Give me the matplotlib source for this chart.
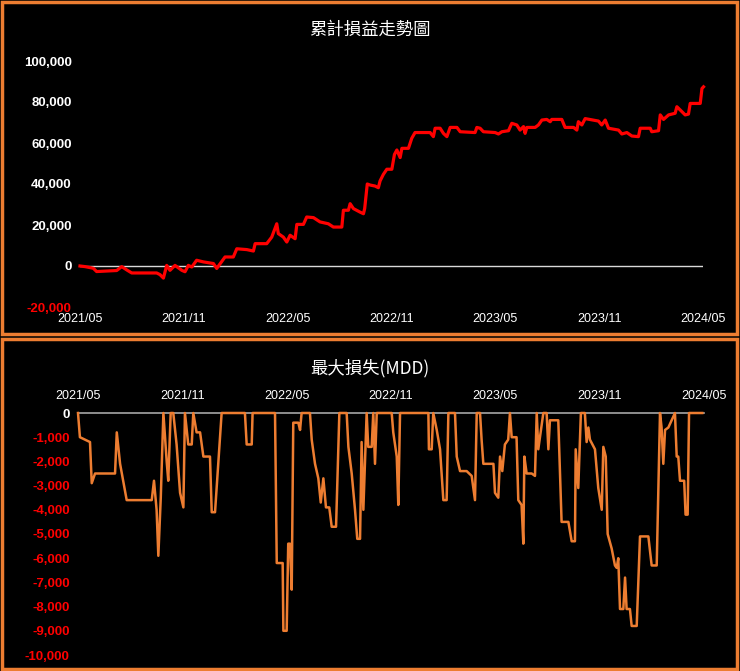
import matplotlib
matplotlib.use("Agg")
import matplotlib.pyplot as plt
from matplotlib.patches import Rectangle

W, H = 740, 671
tick_pos = [0, 6, 12, 18, 24, 30, 36]
tick_labels = ["2021/05", "2021/11", "2022/05", "2022/11", "2023/05", "2023/11", "2024/05"]

pnl_month = [0.0,0.29,0.77,0.96,2.12,2.41,2.70,2.99,4.43,4.62,4.82,5.01,5.20,5.49,5.88,6.07,6.26,6.46,6.74,7.13,7.71,7.90,8.38,8.86,9.06,9.64,10.02,10.12,10.79,11.08,11.37,11.46,11.75,11.95,12.14,12.43,12.53,12.91,13.10,13.49,13.87,14.35,14.64,15.13,15.22,15.51,15.61,15.80,16.18,16.38,16.45,16.6,16.76,17.05,17.24,17.34,17.53,17.73,18.02,18.17,18.31,18.50,18.60,18.98,19.17,19.36,20.23,20.42,20.52,20.81,21.0,21.2,21.39,21.78,21.97,22.83,22.93,23.12,23.31,23.99,24.18,24.38,24.76,24.95,25.24,25.43,25.63,25.72,25.82,26.30,26.49,26.69,26.97,27.17,27.26,27.84,28.03,28.52,28.71,28.80,29.0,29.19,29.96,30.15,30.35,30.54,31.12,31.31,31.60,31.89,32.27,32.37,32.95,33.04,33.43,33.53,33.72,34.01,34.39,34.49,34.78,34.97,35.16,35.26,35.84,35.94,36.03]
pnl_value = [0,-300,-1100,-2700,-2200,-300,-1900,-3400,-3400,-4200,-5900,300,-2100,300,-2100,-2800,300,-500,2800,2000,1200,-1200,4400,4400,8400,8000,7300,10900,10900,14100,20600,15800,14100,11700,15000,13300,20300,20300,23900,23600,21500,20600,19000,19000,27200,27200,30400,28000,26300,25500,28000,40000,39500,39000,38200,41500,44700,47200,47200,54400,56600,52900,57400,57400,62300,65100,65100,63100,67200,67200,64700,63100,67600,67600,65500,65100,67600,67200,65500,65100,64400,65500,66000,69600,68800,66300,68000,64700,67600,67600,68800,71200,71500,70400,71500,71500,67600,67600,66300,70400,68800,71900,70700,68800,71200,67200,66300,64400,65100,63400,63100,67200,67200,65500,66000,73700,71500,73700,74500,77700,75300,73700,74100,79300,79300,86600,87400]

mdd_month = [0.0,0.11,0.69,0.79,0.98,2.13,2.23,2.42,2.80,4.24,4.37,4.52,4.62,4.76,4.91,5.10,5.19,5.33,5.48,5.67,5.87,6.06,6.15,6.34,6.54,6.63,6.82,7.02,7.21,7.59,7.69,7.88,8.26,9.60,9.70,9.99,10.04,11.33,11.43,11.77,11.81,12.0,12.09,12.19,12.29,12.38,12.67,12.77,12.86,13.34,13.44,13.63,13.82,13.96,14.11,14.26,14.45,14.59,14.84,15.03,15.45,15.55,15.74,15.93,16.06,16.22,16.31,16.41,16.60,16.69,16.89,16.98,17.08,17.18,18.04,18.13,18.33,18.42,18.52,20.15,20.18,20.34,20.43,20.63,20.82,21.01,21.20,21.30,21.68,21.78,21.97,22.35,22.64,22.83,22.93,23.12,23.21,23.31,23.89,23.98,24.17,24.27,24.40,24.55,24.74,24.84,24.94,25.22,25.32,25.51,25.61,25.67,25.80,26.09,26.28,26.38,26.47,26.76,26.95,27.05,27.14,27.62,27.81,28.20,28.39,28.58,28.62,28.77,28.92,29.15,29.25,29.35,29.44,29.73,29.92,30.12,30.21,30.35,30.46,30.69,30.88,30.98,31.07,31.17,31.36,31.46,31.55,31.74,31.84,32.13,32.32,32.80,32.99,33.28,33.47,33.56,33.66,33.76,33.95,34.33,34.43,34.52,34.62,34.86,34.94,35.06,35.14,35.90]
mdd_value = [0,-1000,-1200,-2900,-2500,-2500,-800,-2100,-3600,-3600,-2800,-4000,-5900,-3500,0,-2000,-2800,0,0,-1300,-3300,-3900,0,-1300,-1300,0,-800,-800,-1800,-1800,-4100,-4100,0,0,-1300,-1300,0,0,-6200,-6200,-9000,-9000,-5400,-5400,-7300,-400,-400,-700,0,0,-1100,-2100,-2700,-3700,-2700,-3900,-3900,-4700,-4700,0,0,-1400,-2500,-4000,-5200,-5200,-1200,-4000,0,-1400,-1400,0,-2100,0,0,-800,-1800,-3800,0,0,-1500,-1500,0,-700,-1500,-3600,-3600,0,0,-1800,-2400,-2400,-2600,-3600,0,0,-1100,-2100,-2100,-3300,-3500,-1800,-2400,-1300,-1100,0,-1000,-1000,-3600,-3800,-5400,-1800,-2500,-2500,-2600,0,-1500,0,0,-1500,-300,-300,-4500,-4500,-5300,-5300,-1500,-3100,0,0,-1200,-600,-1100,-1500,-3100,-4000,-1400,-1800,-5000,-5600,-6300,-6400,-6000,-8100,-8100,-6800,-8100,-8100,-8800,-8800,-5100,-5100,-6300,-6300,0,-600,-2100,-700,-600,0,-1800,-1800,-2800,-2800,-4200,-4200,0,0]

top_yticks = [-20000, 0, 20000, 40000, 60000, 80000, 100000]
mdd_yticks = list(range(0, -10001, -1000))

ORANGE = "#ED7D31"
CJK = ["Noto Sans CJK TC", "DejaVu Sans"]
TICKF = "Liberation Sans"

fig = plt.figure(figsize=(W/100, H/100), dpi=100, facecolor="black")

def fx(px): return px / W
def fy(py): return 1 - py / H

for (x0, y0, x1, y1) in [(2, 2, 737, 334), (2, 339, 737, 669)]:
    fig.patches.append(Rectangle((fx(x0), fy(y1)), fx(x1 - x0), (y1 - y0) / H,
                                 transform=fig.transFigure, fill=False,
                                 edgecolor=ORANGE, linewidth=2.5))

def fmt(v):
    return f"{v:,}"

# Top axes
ax1 = fig.add_axes([fx(80), fy(307), fx(703) - fx(80), (307 - 61) / H])
ax1.set_facecolor("black")
ax1.set_xlim(0, 36)
ax1.set_ylim(-20000, 100000)
ax1.axhline(0, color="#d9d9d9", lw=1, zorder=1)
ax1.plot(pnl_month, pnl_value, color="#FF0000", lw=2.3, zorder=3, clip_on=False)
ax1.set_xticks(tick_pos)
ax1.set_xticklabels(tick_labels, color="white", fontsize=9, family=TICKF)
ax1.set_yticks(top_yticks)
ax1.set_yticklabels([fmt(v) for v in top_yticks], fontsize=9.5, family=TICKF, fontweight="bold")
for lab, v in zip(ax1.get_yticklabels(), top_yticks):
    lab.set_color("#FF0000" if v < 0 else "white")
ax1.tick_params(length=0, pad=6)
ax1.tick_params(axis="x", pad=4)
for s in ax1.spines.values():
    s.set_visible(False)
fig.text(0.5, fy(30), "累計損益走勢圖", color="white", fontsize=12.5, ha="center", va="center", family=CJK)

# Bottom axes
ax2 = fig.add_axes([fx(78), fy(655), fx(704) - fx(78), (655 - 413) / H])
ax2.set_facecolor("black")
ax2.set_xlim(0, 36)
ax2.set_ylim(-10000, 0)
ax2.axhline(0, color="#a6a6a6", lw=1.2, zorder=1, clip_on=False)
ax2.plot(mdd_month, mdd_value, color=ORANGE, lw=1.8, zorder=3, clip_on=False)
ax2.xaxis.tick_top()
ax2.set_xticks(tick_pos)
ax2.set_xticklabels(tick_labels, color="white", fontsize=9, family=TICKF)
ax2.set_yticks(mdd_yticks)
ax2.set_yticklabels([fmt(v) for v in mdd_yticks], fontsize=9.5, family=TICKF, fontweight="bold")
for lab, v in zip(ax2.get_yticklabels(), mdd_yticks):
    lab.set_color("#FF0000" if v < 0 else "white")
ax2.tick_params(length=0, pad=6)
ax2.tick_params(axis="x", pad=8)
for s in ax2.spines.values():
    s.set_visible(False)
fig.text(0.5, fy(368), "最大損失(MDD)", color="white", fontsize=12.5, ha="center", va="center", family=CJK)

fig.savefig("out.png", dpi=100, facecolor="black")
